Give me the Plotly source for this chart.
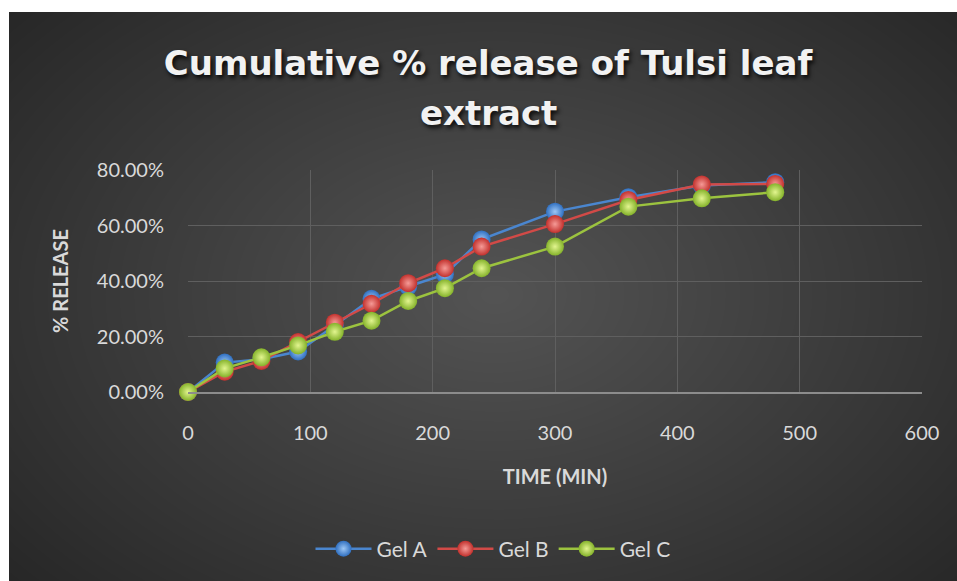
import plotly.graph_objects as go

# ---- data ----
time_min = [0, 30, 60, 90, 120, 150, 180, 210, 240, 300, 360, 420, 480]
gel_a = [0.0, 10.6, 11.8, 14.6, 24.0, 33.6, 38.0, 42.4, 55.0, 65.0, 70.2, 74.4, 75.6]
gel_b = [0.0, 7.3, 11.2, 18.0, 25.0, 31.8, 39.2, 44.6, 52.4, 60.5, 69.2, 74.8, 75.0]
gel_c = [0.0, 8.5, 12.5, 16.8, 21.7, 25.7, 32.8, 37.4, 44.6, 52.4, 66.8, 69.8, 72.0]
series_names = ["Gel A", "Gel B", "Gel C"]
y_ticks = [0, 20, 40, 60, 80]
y_tick_labels = ["0.00%", "20.00%", "40.00%", "60.00%", "80.00%"]
x_ticks = [0, 100, 200, 300, 400, 500, 600]
title_line1 = "Cumulative % release of Tulsi leaf"
title_line2 = "extract"

W, H = 957, 581
L, R, T, B = 188, 922, 170, 392  # plot area in pixels


def px(xp):
    return (xp - L) / (R - L)


def py(yp):
    return (B - yp) / (B - T)


line_cols = ["#4a86cf", "#d24a47", "#9cc33f"]
mark_cols = ["#2f6fc0", "#c2302c", "#84b22a"]
hi_cols = ["#9cc6f5", "#f59a96", "#e2f58f"]

fig = go.Figure()
for name, ys, lc, mc, hc in zip(series_names, [gel_a, gel_b, gel_c], line_cols, mark_cols, hi_cols):
    fig.add_trace(go.Scatter(
        x=time_min, y=ys, name=name, mode="lines+markers",
        line=dict(color=lc, width=2.5),
        marker=dict(size=18, color=mc, gradient=dict(type="radial", color=hc),
                    line=dict(width=0)),
        cliponaxis=False,
    ))

# background: dark panel with radial light glow
shapes = [dict(type="rect", xref="paper", yref="paper", layer="below",
               x0=px(9), x1=px(960), y0=py(585), y1=py(12),
               fillcolor="#262626", line=dict(width=0))]
cx, cy = 495, 295
n = 45
for i in range(n):
    f = 1 - i / n
    rx, ry = 650 * f, 440 * f
    shapes.append(dict(type="circle", xref="paper", yref="paper", layer="below",
                       x0=px(cx - rx), x1=px(cx + rx), y0=py(cy + ry), y1=py(cy - ry),
                       fillcolor="rgba(200,200,200,0.0064)", line=dict(width=0)))

title_style = dict(family="DejaVu Sans, sans-serif", size=34, color="#f2f2f2",
                   shadow="2px 3px 4px rgba(0,0,0,0.85)")
tick_font = dict(family="Lato, Carlito, sans-serif", size=20, color="#d9d9d9")
title_font = dict(family="Lato, sans-serif", size=20, color="#d9d9d9")

fig.update_layout(
    width=W, height=H,
    margin=dict(l=L, r=W - R, t=T, b=H - B),
    paper_bgcolor="white",
    plot_bgcolor="rgba(0,0,0,0)",
    shapes=shapes,
    title=dict(
        text="<b>" + title_line1 + "</b>",
        xref="container", x=488 / W, xanchor="center",
        yref="container", y=1 - 63 / H, yanchor="middle",
        font=title_style,
    ),
    annotations=[dict(
        text="<b>" + title_line2 + "</b>", xref="paper", yref="paper",
        x=px(488), y=py(113), xanchor="center", yanchor="middle",
        showarrow=False, font=title_style,
    )],
    xaxis=dict(
        range=[0, 600], tickvals=x_ticks, showgrid=True, gridcolor="#5f5f5f", gridwidth=1.2,
        zeroline=False, showline=True, linecolor="#8c8c8c", linewidth=2,
        ticks="outside", ticklen=22, tickcolor="rgba(0,0,0,0)", tickfont=tick_font,
        title=dict(text="<b>TIME (MIN)</b>", font=title_font, standoff=27),
    ),
    yaxis=dict(
        range=[0, 80], tickvals=y_ticks, ticktext=y_tick_labels,
        showgrid=True, gridcolor="#5f5f5f", gridwidth=1.2, zeroline=False,
        showline=False, ticks="outside", ticklen=19, tickcolor="rgba(0,0,0,0)",
        tickfont=tick_font,
        title=dict(text="<b>% RELEASE</b>", font=title_font, standoff=22),
    ),
    legend=dict(
        orientation="h", x=px(493), xanchor="center", y=py(549), yanchor="middle",
        font=dict(family="Lato, sans-serif", size=21, color="#d9d9d9"),
        bgcolor="rgba(0,0,0,0)", itemwidth=56,
    ),
    showlegend=True,
)

fig.write_html("out.html", config={"displayModeBar": False},
               post_script="document.body.style.margin='0';")
